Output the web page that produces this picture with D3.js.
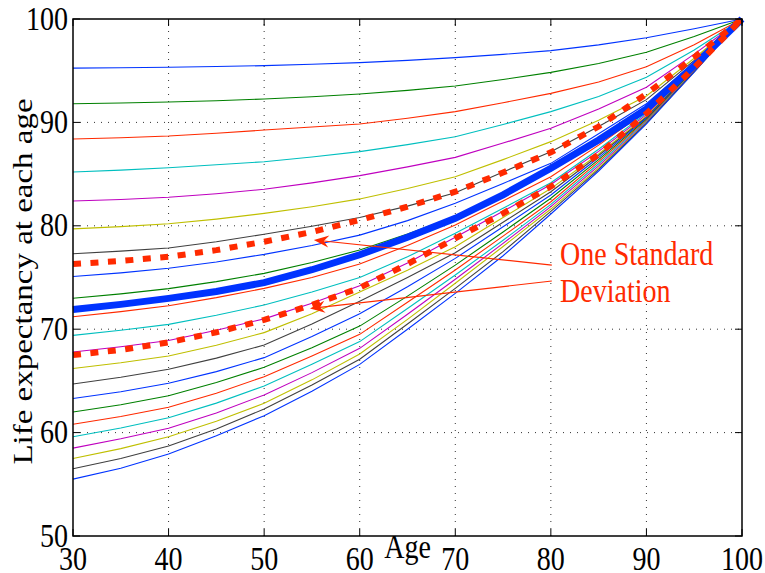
<!DOCTYPE html>
<html lang="en">
<head>
    <meta charset="UTF-8">
    <script src="https://cdn.jsdelivr.net/npm/d3@7"></script>
    <title>Life expectancy</title>
    <style>
        body { margin: 0; background: white; }
        text { font-family: "Liberation Serif", "Times New Roman", serif; }
    </style>
</head>
<body>
    <div id="chart"></div>
    <script>
        // ages where each curve has a vertex
        const ages = [30, 35, 40, 45, 50, 55, 60, 65, 70, 75, 80, 85, 90, 95, 100];

        // thin simulated curves, top to bottom
        const simulated = [
            [95.25, 95.28, 95.33, 95.4, 95.49, 95.62, 95.78, 96.0, 96.26, 96.58, 96.94, 97.5, 98.19, 99.05, 100],
            [91.8, 91.87, 91.97, 92.1, 92.26, 92.48, 92.75, 93.1, 93.52, 94.15, 94.84, 95.7, 96.78, 98.3, 100],
            [88.4, 88.52, 88.68, 88.95, 89.26, 89.55, 89.85, 90.4, 91.04, 91.9, 92.81, 93.9, 95.39, 97.5, 100],
            [85.2, 85.38, 85.62, 85.9, 86.2, 86.65, 87.17, 87.85, 88.62, 89.8, 91.04, 92.5, 94.36, 97.0, 100],
            [82.4, 82.55, 82.76, 83.1, 83.53, 84.15, 84.85, 85.7, 86.62, 88.0, 89.43, 91.3, 93.4, 96.6, 100],
            [79.7, 79.92, 80.2, 80.65, 81.2, 81.85, 82.6, 83.6, 84.75, 86.4, 88.14, 90.2, 92.55, 96.2, 100],
            [77.3, 77.55, 77.85, 78.45, 79.18, 79.95, 80.8, 81.9, 83.2, 85.2, 87.17, 89.6, 92.2, 96.0, 100],
            [75.1, 75.45, 75.89, 76.5, 77.24, 78.1, 79.1, 80.5, 82.17, 84.1, 86.04, 88.9, 91.8, 95.8, 100],
            [73.0, 73.42, 73.92, 74.6, 75.4, 76.45, 77.66, 79.2, 80.9, 83.2, 85.6, 88.3, 91.4, 95.6, 100],
            [71.2, 71.7, 72.27, 73.05, 73.95, 75.0, 76.3, 78.1, 80.08, 82.4, 84.75, 87.8, 91.1, 95.5, 100],
            [69.4, 69.9, 70.47, 71.35, 72.34, 73.6, 75.0, 77.0, 79.27, 81.7, 84.17, 87.4, 90.9, 95.4, 100],
            [67.8, 68.3, 68.9, 69.9, 71.0, 72.5, 74.2, 76.4, 78.9, 81.4, 84.0, 87.2, 90.75, 95.3, 100],
            [66.2, 66.75, 67.41, 68.45, 69.67, 71.5, 73.6, 75.7, 77.98, 80.8, 83.6, 86.95, 90.6, 95.25, 100],
            [64.7, 65.35, 66.12, 67.2, 68.47, 70.5, 72.7, 75.0, 77.4, 80.35, 83.3, 86.8, 90.5, 95.2, 100],
            [63.3, 63.95, 64.77, 65.9, 67.25, 69.3, 71.5, 74.1, 76.85, 79.9, 82.98, 86.6, 90.4, 95.15, 100],
            [62.0, 62.7, 63.57, 64.85, 66.31, 68.2, 70.3, 73.2, 76.2, 79.4, 82.66, 86.4, 90.3, 95.1, 100],
            [60.8, 61.55, 62.45, 63.8, 65.41, 67.4, 69.5, 72.6, 75.73, 79.0, 82.33, 86.2, 90.2, 95.05, 100],
            [59.6, 60.45, 61.44, 62.85, 64.51, 66.6, 68.8, 72.0, 75.24, 78.6, 82.07, 86.0, 90.1, 95.0, 100],
            [58.5, 59.4, 60.42, 61.9, 63.64, 65.8, 68.15, 71.45, 74.83, 78.3, 81.85, 85.8, 90.0, 94.95, 100],
            [57.5, 58.45, 59.6, 61.1, 62.83, 65.1, 67.6, 70.95, 74.44, 78.0, 81.62, 85.6, 89.95, 94.9, 100],
            [56.5, 57.5, 58.7, 60.35, 62.28, 64.6, 67.1, 70.5, 73.95, 77.5, 81.4, 85.45, 89.9, 94.9, 100],
            [55.5, 56.55, 57.93, 59.7, 61.64, 64.0, 66.6, 70.0, 73.47, 77.1, 81.14, 85.3, 89.85, 94.85, 100]
        ];

        const meanLife = [71.9, 72.4, 72.98, 73.65, 74.5, 75.75, 77.2, 78.9, 80.72, 83.0, 85.56, 88.3, 91.3, 95.5, 100];
        const upperSD = [76.3, 76.6, 77.0, 77.65, 78.46, 79.4, 80.56, 81.85, 83.3, 85.15, 87.1, 89.6, 92.75, 96.3, 100];
        const lowerSD = [67.5, 68.0, 68.73, 69.7, 70.9, 72.35, 74.0, 76.3, 78.79, 81.2, 83.8, 86.9, 90.85, 95.3, 100];

        const lineColors = ["#0033ff", "#008000", "#ff2a00", "#00bfbf", "#bf00bf", "#bfbf00", "#404040"];

        const xTicks = [30, 40, 50, 60, 70, 80, 90, 100];
        const yTicks = [50, 60, 70, 80, 90, 100];

        // annotation: text lines and arrows (tail -> tip) in data units
        const noteLines = ["One Standard", "Deviation"];
        const notePos = [[80.95, 76.2], [80.95, 72.66]];
        const arrows = [
            [[80.1, 76.2], [55.2, 78.63]],
            [[80.1, 74.66], [54.8, 72.0]]
        ];

        const width = 765, height = 573;
        const margin = { top: 19, right: 23, bottom: 37, left: 73 };
        const sx = 0.85; // glyphs in the source look narrowed

        const svg = d3.select("#chart").append("svg")
            .attr("width", width)
            .attr("height", height);

        const x = d3.scaleLinear().domain([30, 100]).range([margin.left, width - margin.right]);
        const y = d3.scaleLinear().domain([50, 100]).range([height - margin.bottom, margin.top]);

        // dotted grid
        const grid = svg.append("g");
        grid.selectAll(".gx")
            .data(xTicks.slice(1, -1))
            .enter().append("line")
            .attr("x1", d => x(d)).attr("x2", d => x(d))
            .attr("y1", y(50)).attr("y2", y(100))
            .attr("stroke", "#333").attr("stroke-width", 1)
            .attr("stroke-dasharray", "1,6");
        grid.selectAll(".gy")
            .data(yTicks.slice(1, -1))
            .enter().append("line")
            .attr("y1", d => y(d)).attr("y2", d => y(d))
            .attr("x1", x(30)).attr("x2", x(100))
            .attr("stroke", "#333").attr("stroke-width", 1)
            .attr("stroke-dasharray", "1,6");

        const line = d3.line()
            .x((d, i) => x(ages[i]))
            .y(d => y(d));

        svg.append("g").selectAll("path")
            .data(simulated)
            .enter().append("path")
            .attr("d", line)
            .attr("fill", "none")
            .attr("stroke", (d, i) => lineColors[i % lineColors.length])
            .attr("stroke-width", 1.1);

        svg.append("path")
            .attr("d", line(meanLife))
            .attr("fill", "none")
            .attr("stroke", "#0033ff")
            .attr("stroke-width", 7);

        svg.append("g").selectAll("path")
            .data([upperSD, lowerSD])
            .enter().append("path")
            .attr("d", line)
            .attr("fill", "none")
            .attr("stroke", "#ff2a00")
            .attr("stroke-width", 6)
            .attr("stroke-dasharray", "8,9.5");

        // axes box with inward ticks
        const axes = svg.append("g");
        axes.append("rect")
            .attr("x", x(30)).attr("y", y(100))
            .attr("width", x(100) - x(30)).attr("height", y(50) - y(100))
            .attr("fill", "none").attr("stroke", "black").attr("stroke-width", 1.5);
        const tl = 7;
        xTicks.forEach(t => {
            axes.append("line").attr("x1", x(t)).attr("x2", x(t))
                .attr("y1", y(50)).attr("y2", y(50) - tl).attr("stroke", "black");
            axes.append("line").attr("x1", x(t)).attr("x2", x(t))
                .attr("y1", y(100)).attr("y2", y(100) + tl).attr("stroke", "black");
        });
        yTicks.forEach(t => {
            axes.append("line").attr("y1", y(t)).attr("y2", y(t))
                .attr("x1", x(30)).attr("x2", x(30) + tl).attr("stroke", "black");
            axes.append("line").attr("y1", y(t)).attr("y2", y(t))
                .attr("x1", x(100)).attr("x2", x(100) - tl).attr("stroke", "black");
        });

        const label = (px, py, txt, anchor, color) => {
            svg.append("text")
                .attr("transform", `translate(${px},${py}) scale(${sx},1)`)
                .attr("text-anchor", anchor)
                .attr("font-size", 33)
                .attr("fill", color || "black")
                .text(txt);
        };

        xTicks.forEach(t => label(x(t), 570, t, "middle"));
        yTicks.forEach(t => label(x(30) - 5, y(t) + 10.5, t, "end"));

        label((x(30) + x(100)) / 2, 558, "Age", "middle");

        svg.append("text")
            .attr("transform", `translate(32,${(y(50) + y(100)) / 2 + 4}) rotate(-90) scale(1,${sx})`)
            .attr("text-anchor", "middle")
            .attr("font-size", 33)
            .text("Life expectancy at each age");

        // annotation
        noteLines.forEach((t, i) => label(x(notePos[i][0]), y(notePos[i][1]), t, "start", "#ff2a00"));

        arrows.forEach(a => {
            const x0 = x(a[0][0]), y0 = y(a[0][1]);
            const x1 = x(a[1][0]), y1 = y(a[1][1]);
            const ang = Math.atan2(y1 - y0, x1 - x0);
            const len = 15, half = 6, back = 10;
            const bx = x1 - len * Math.cos(ang), by = y1 - len * Math.sin(ang);
            const nx = -Math.sin(ang), ny = Math.cos(ang);
            const cx = x1 - back * Math.cos(ang), cy = y1 - back * Math.sin(ang);
            svg.append("line")
                .attr("x1", x0).attr("y1", y0).attr("x2", cx).attr("y2", cy)
                .attr("stroke", "#ff2a00").attr("stroke-width", 1.2);
            svg.append("path")
                .attr("d", `M${x1},${y1}L${bx + nx * half},${by + ny * half}L${cx},${cy}L${bx - nx * half},${by - ny * half}Z`)
                .attr("fill", "#ff2a00");
        });
    </script>
</body>
</html>
